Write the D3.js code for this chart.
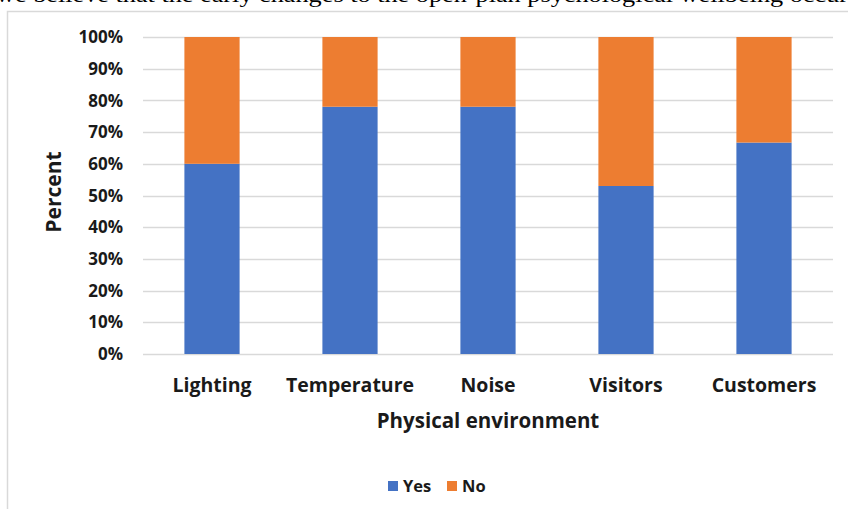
<!DOCTYPE html>
<html><head><meta charset="utf-8">
<script src="https://cdn.jsdelivr.net/npm/d3@7"></script>
<style>body{margin:0;background:#fff;} svg{display:block;}</style>
</head><body>
<svg id="c" width="848" height="509"></svg>
<script>
const categories = ["Lighting", "Temperature", "Noise", "Visitors", "Customers"];
const yesValues = [60, 78, 78, 53, 66.7];
const noValues = [40, 22, 22, 47, 33.3];
const seriesNames = ["Yes", "No"];
const seriesColors = ["#4472C4", "#ED7D31"];
const yTicks = [0, 10, 20, 30, 40, 50, 60, 70, 80, 90, 100];

const svg = d3.select("#c");
const font = "'Open Sans', sans-serif";

// cropped text line above the chart (partially visible in the source)
svg.append("text").attr("x", -4).attr("y", 1.5)
  .attr("font-family", "'Liberation Serif', serif").attr("font-size", 22)
  .attr("textLength", 852).attr("lengthAdjust", "spacingAndGlyphs")
  .text("we believe that the early changes to the open-plan psychological wellbeing occur");

// chart border
svg.append("rect").attr("x", 7.5).attr("y", 11.5).attr("width", 900).attr("height", 520)
  .attr("fill", "#fff").attr("stroke", "#d9d9d9").attr("stroke-width", 1.5);

const x = d3.scaleBand().domain(categories).range([143, 833]).paddingInner(0.6).paddingOuter(0.3);
const y = d3.scaleLinear().domain([0, 100]).range([354, 37]);

// gridlines
svg.append("g").selectAll("line").data(yTicks).join("line")
  .attr("x1", 143).attr("x2", 833)
  .attr("y1", d => Math.round(y(d)) + 0.5).attr("y2", d => Math.round(y(d)) + 0.5)
  .attr("stroke", "#d9d9d9").attr("stroke-width", 1.3);

// y tick labels
svg.append("g").selectAll("text").data(yTicks).join("text")
  .attr("x", 123).attr("y", d => y(d)).attr("dy", "0.36em")
  .attr("text-anchor", "end").attr("font-family", font).attr("font-weight", 700)
  .attr("font-size", 17).attr("fill", "#1a1a1a").text(d => d + "%");

// stacked bars
const data = categories.map((c, i) => ({c, yes: yesValues[i], no: noValues[i]}));
const stack = d3.stack().keys(["yes", "no"])(data);
svg.append("g").selectAll("g").data(stack).join("g")
  .attr("fill", (d, i) => seriesColors[i])
  .selectAll("rect").data(d => d).join("rect")
  .attr("x", d => x(d.data.c)).attr("width", x.bandwidth())
  .attr("y", d => y(d[1])).attr("height", d => y(d[0]) - y(d[1]));

// category labels
svg.append("g").selectAll("text").data(categories).join("text")
  .attr("x", d => x(d) + x.bandwidth() / 2).attr("y", 392)
  .attr("text-anchor", "middle").attr("font-family", font).attr("font-weight", 700)
  .attr("font-size", 19.5).attr("fill", "#1a1a1a").text(d => d);

// axis titles
svg.append("text").attr("x", 488).attr("y", 428).attr("text-anchor", "middle")
  .attr("font-family", font).attr("font-weight", 700).attr("font-size", 20.5)
  .attr("fill", "#1a1a1a").text("Physical environment");
svg.append("text").attr("transform", "translate(61,192) rotate(-90)").attr("text-anchor", "middle")
  .attr("font-family", font).attr("font-weight", 700).attr("font-size", 21)
  .attr("fill", "#1a1a1a").text("Percent");

// legend
const legX = [388, 447];
const lg = svg.append("g").selectAll("g").data(seriesNames).join("g")
  .attr("transform", (d, i) => `translate(${legX[i]},486)`);
lg.append("rect").attr("x", 0).attr("y", -5).attr("width", 10).attr("height", 10)
  .attr("fill", (d, i) => seriesColors[i]);
lg.append("text").attr("x", 15).attr("y", 0).attr("dy", "0.36em")
  .attr("font-family", font).attr("font-weight", 700).attr("font-size", 16.5)
  .attr("fill", "#1a1a1a").text(d => d);
</script>
</body></html>
